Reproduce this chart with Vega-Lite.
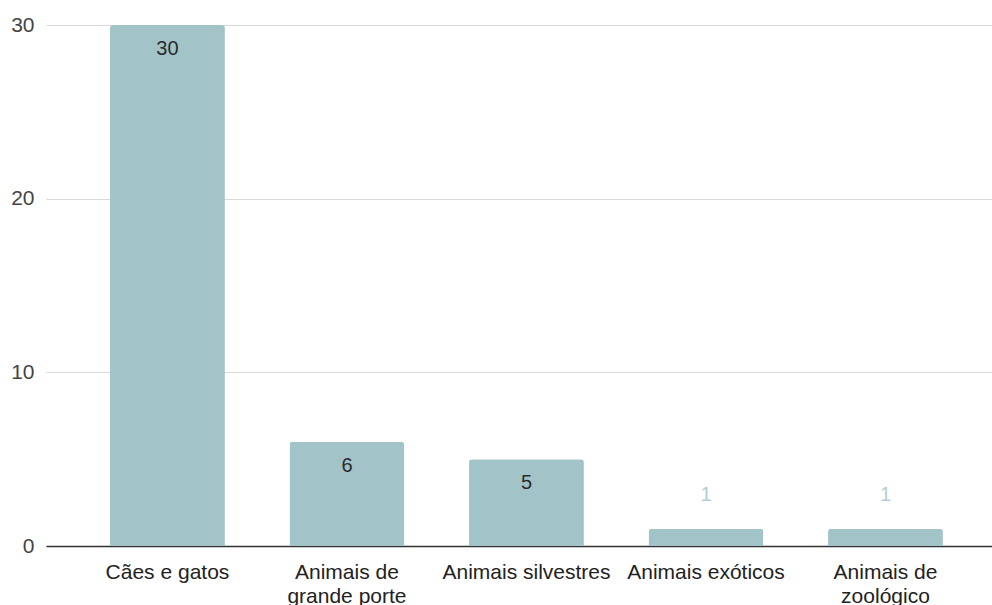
{
  "$schema": "https://vega.github.io/schema/vega-lite/v6.json",
  "autosize": "none",
  "width": 946,
  "height": 521,
  "padding": {"left": 46, "top": 25, "right": 0, "bottom": 59},
  "background": "white",
  "config": {
    "view": {"stroke": null},
    "font": "Liberation Sans"
  },
  "data": {
    "values": [
      {"categoria": "Cães e gatos", "valor": 30},
      {"categoria": "Animais de grande porte", "valor": 6},
      {"categoria": "Animais silvestres", "valor": 5},
      {"categoria": "Animais exóticos", "valor": 1},
      {"categoria": "Animais de zoológico", "valor": 1}
    ]
  },
  "encoding": {
    "x": {
      "field": "categoria",
      "type": "nominal",
      "sort": null,
      "scale": {"paddingInner": 0.36, "paddingOuter": 0.315, "align": 0.566},
      "axis": {
        "title": null,
        "labelAngle": 0,
        "labelFontSize": 21,
        "labelColor": "#222222",
        "labelPadding": 15,
        "labelLineHeight": 24,
        "labelExpr": "datum.value == 'Animais de grande porte' ? ['Animais de', 'grande porte'] : datum.value == 'Animais de zoológico' ? ['Animais de', 'zoológico'] : datum.value",
        "ticks": false,
        "domainColor": "#333333",
        "domainWidth": 1.5,
        "labelBaseline": "top"
      }
    },
    "y": {
      "field": "valor",
      "type": "quantitative",
      "scale": {"domain": [0, 30], "nice": false},
      "axis": {
        "title": null,
        "values": [0, 10, 20, 30],
        "labelFontSize": 21,
        "labelColor": "#444444",
        "labelPadding": 12,
        "ticks": false,
        "domain": false,
        "gridColor": "#d9d9d9",
        "gridWidth": 1
      }
    }
  },
  "layer": [
    {
      "mark": {"type": "bar", "color": "#a2c4c9", "cornerRadiusTopLeft": 3, "cornerRadiusTopRight": 3}
    },
    {
      "transform": [{"filter": "datum.valor >= 2"}],
      "mark": {"type": "text", "baseline": "middle", "dy": 24, "fontSize": 20, "color": "#2b2b2b"},
      "encoding": {"text": {"field": "valor", "type": "quantitative"}}
    },
    {
      "transform": [{"filter": "datum.valor < 2"}],
      "mark": {"type": "text", "baseline": "middle", "dy": -34, "fontSize": 20, "color": "#b0cfd3"},
      "encoding": {"text": {"field": "valor", "type": "quantitative"}}
    }
  ]
}
